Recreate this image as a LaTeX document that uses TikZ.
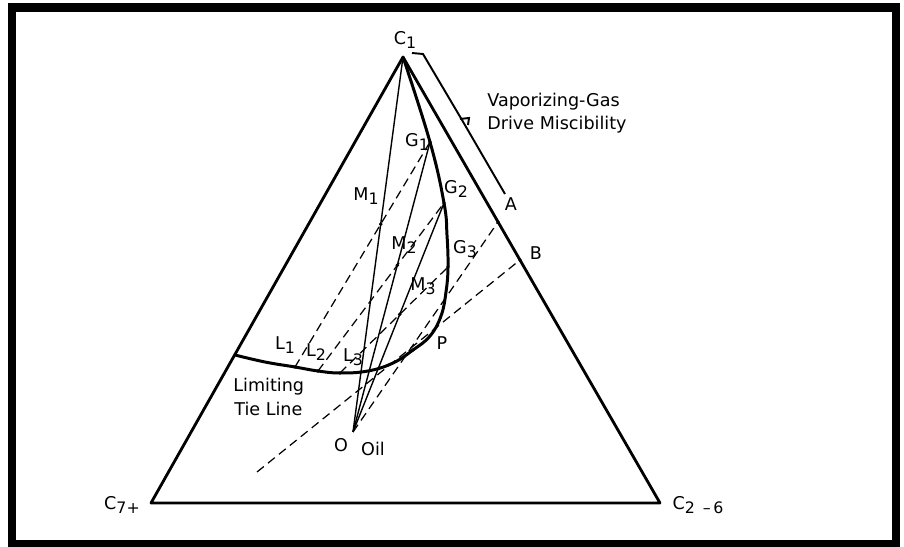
\documentclass[tikz,border=0pt]{standalone}
\usepackage{fontspec}
\setmainfont{DejaVu Sans}
\usepackage{tikz}
\usetikzlibrary{calc}

\newcommand{\lsub}[1]{\raisebox{-0.45ex}{\small #1}}

\tikzset{
  edge/.style={line width=1.6pt, line join=round},
  binodal/.style={line width=1.7pt, line join=round},
  mixline/.style={line width=0.8pt},
  tieline/.style={line width=0.7pt, dash pattern=on 5pt off 3pt},
  lbl/.style={inner sep=0pt, font=\fontsize{10}{12}\selectfont},
}

\begin{document}
\begin{tikzpicture}[x=0.02cm, y=-0.02cm]
  \useasboundingbox (0,0) rectangle (904,547);
  % frame
  \draw[line width=4.8pt] (12,7.5) rectangle (896,544);

  % pseudo-components
  \coordinate (C1) at (403,57);
  \coordinate (C7) at (151,503);
  \coordinate (C26) at (660,503);
  % oil, gases, liquids
  \coordinate (O) at (353,432);
  \coordinate (G1) at (430,142);
  \coordinate (G2) at (444,203);
  \coordinate (G3) at (448,267);
  \coordinate (P) at (413,350);
  \coordinate (L1) at (295,367);
  \coordinate (L2) at (318,371);
  \coordinate (L3) at (340,373);
  \coordinate (Lim) at (235,355);
  \coordinate (A) at (498,222);
  \coordinate (B) at (520,260);
  \coordinate (T) at (257,472);
  % mixtures
  \coordinate (M1) at (intersection of C1--O and L1--G1);
  \coordinate (M2) at (intersection of G1--O and L2--G2);
  \coordinate (M3) at (intersection of G2--O and L3--G3);

  \draw[edge] (C1) -- (C7) -- (C26) -- cycle;

  % miscibility bracket
  \coordinate (brH) at (412,53);
  \coordinate (brT) at (423,54);
  \coordinate (brM) at (462,120);
  \coordinate (brB) at (505,194);
  \draw[line width=1.1pt] (brH) -- (brT) -- (brM) -- (brB);
  \draw[line width=1.1pt] ($(brM)+(-2,-1)$) -- ($(brM)+(7,-2)$) -- ($(brM)+(6,5)$);

  % two-phase envelope
  \coordinate (b1) at (265,362);
  \coordinate (b2) at (368,371);
  \coordinate (b3) at (393,363);
  \coordinate (b4) at (430,336);
  \coordinate (b5) at (441,316);
  \coordinate (b6) at (446,292);
  \coordinate (b7) at (447,235);
  \draw[binodal] plot[smooth, tension=0.7] coordinates
    {(Lim) (b1) (L1) (L2) (L3) (b2) (b3) (P) (b4) (b5) (b6) (G3) (b7) (G2) (G1) (C1)};

  % mixing lines to the oil
  \foreach \g in {C1,G1,G2}
    \draw[mixline] (\g) -- (O);
  % tie lines
  \foreach \l/\g in {L1/G1, L2/G2, L3/G3, O/A, T/B}
    \draw[tieline] (\l) -- (\g);

  \foreach \p in {G1,G2,G3,M1,M2,M3,L1,L2,L3,P,A,B}
    \fill (\p) circle (1.1pt);

  % labels
  \node[lbl] (tC1) at (405,40) {C\lsub{1}};
  \node[lbl, anchor=base west] (tVap) at (487,107) {Vaporizing-Gas};
  \node[lbl, anchor=base west] (tDrive) at (487,130) {Drive Miscibility};
  \node[lbl] (tG1) at (417,142) {G\lsub{1}};
  \node[lbl] (tG2) at (456,189) {G\lsub{2}};
  \node[lbl] (tG3) at (465,249) {G\lsub{3}};
  \node[lbl] (tM1) at (366,196) {M\lsub{1}};
  \node[lbl] (tM2) at (404,245) {M\lsub{2}};
  \node[lbl] (tM3) at (423,286) {M\lsub{3}};
  \node[lbl] (tA) at (511,204) {A};
  \node[lbl] (tB) at (536,253) {B};
  \node[lbl] (tP) at (442,343) {P};
  \node[lbl] (tL1) at (285,345) {L\lsub{1}};
  \node[lbl] (tL2) at (316,352) {L\lsub{2}};
  \node[lbl] (tL3) at (353,357) {L\lsub{3}};
  \node[lbl, anchor=base west] (tLim) at (233,392) {Limiting};
  \node[lbl, anchor=base west] (tTie) at (234,416) {Tie Line};
  \node[lbl] (tO) at (341,445) {O};
  \node[lbl] (tOil) at (373,449) {Oil};
  \node[lbl] (tC7) at (122,505) {C\lsub{7+}};
  \node[lbl] (tC26) at (698,505) {C\lsub{2\enspace--\,6}};
\end{tikzpicture}
\end{document}
